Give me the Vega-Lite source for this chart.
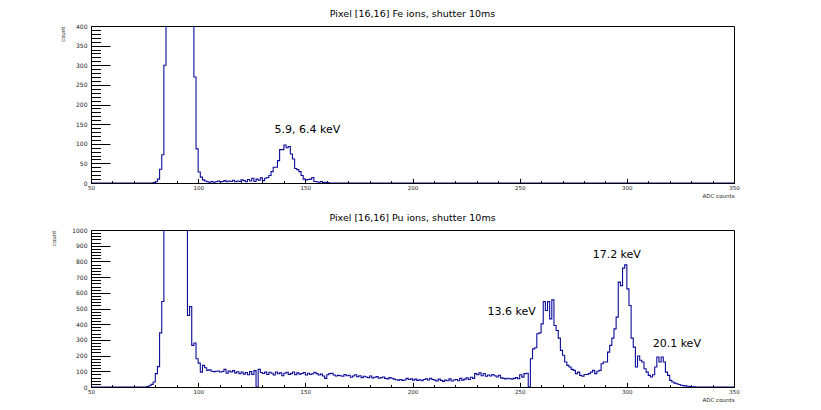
{
  "$schema": "https://vega.github.io/schema/vega-lite/v6.json",
  "background": "white",
  "padding": {"left": 51, "top": 8, "right": 5, "bottom": 0},
  "spacing": 12,
  "datasets": {
    "fe": [
      {"adc":50,"count":0},{"adc":76,"count":0},{"adc":77,"count":0},{"adc":78,"count":0},{"adc":79,"count":1},{"adc":80,"count":3},{"adc":81,"count":10},{"adc":82,"count":35},{"adc":83,"count":72},{"adc":84,"count":300},
      {"adc":85,"count":620},{"adc":86,"count":1500},{"adc":87,"count":2800},{"adc":88,"count":4100},{"adc":89,"count":5000},{"adc":90,"count":5400},{"adc":91,"count":5200},{"adc":92,"count":4600},{"adc":93,"count":3700},{"adc":94,"count":2700},
      {"adc":95,"count":1800},{"adc":96,"count":1000},{"adc":97,"count":520},{"adc":98,"count":270},{"adc":99,"count":87},{"adc":100,"count":28},{"adc":101,"count":15},{"adc":102,"count":8},{"adc":103,"count":5},{"adc":104,"count":3},
      {"adc":105,"count":2},{"adc":106,"count":4},{"adc":107,"count":2},{"adc":108,"count":3},{"adc":109,"count":5},{"adc":110,"count":3},{"adc":111,"count":4},{"adc":112,"count":6},{"adc":113,"count":3},{"adc":114,"count":5},
      {"adc":115,"count":4},{"adc":116,"count":7},{"adc":117,"count":3},{"adc":118,"count":5},{"adc":119,"count":4},{"adc":120,"count":8},{"adc":121,"count":6},{"adc":122,"count":3},{"adc":123,"count":9},{"adc":124,"count":5},
      {"adc":125,"count":12},{"adc":126,"count":4},{"adc":127,"count":10},{"adc":128,"count":7},{"adc":129,"count":13},{"adc":130,"count":6},{"adc":131,"count":12},{"adc":132,"count":14},{"adc":133,"count":19},{"adc":134,"count":29},
      {"adc":135,"count":40},{"adc":136,"count":40},{"adc":137,"count":57},{"adc":138,"count":85},{"adc":139,"count":85},{"adc":140,"count":97},{"adc":141,"count":90},{"adc":142,"count":93},{"adc":143,"count":74},{"adc":144,"count":61},
      {"adc":145,"count":37},{"adc":146,"count":34},{"adc":147,"count":29},{"adc":148,"count":19},{"adc":149,"count":10},{"adc":150,"count":8},{"adc":151,"count":9},{"adc":152,"count":10},{"adc":153,"count":14},{"adc":154,"count":4},
      {"adc":155,"count":3},{"adc":156,"count":2},{"adc":157,"count":4},{"adc":158,"count":1},{"adc":159,"count":2},{"adc":160,"count":1},{"adc":161,"count":0},{"adc":350,"count":0}
    ],
    "pu": [
      {"adc":50,"count":0},{"adc":75,"count":0},{"adc":76,"count":3},{"adc":77,"count":8},{"adc":78,"count":17},{"adc":79,"count":32},{"adc":80,"count":85},{"adc":81,"count":130},{"adc":82,"count":345},{"adc":83,"count":545},
      {"adc":84,"count":1200},{"adc":85,"count":2600},{"adc":86,"count":4200},{"adc":87,"count":5600},{"adc":88,"count":6500},{"adc":89,"count":6800},{"adc":90,"count":6400},{"adc":91,"count":5500},{"adc":92,"count":4300},{"adc":93,"count":3000},
      {"adc":94,"count":1700},{"adc":95,"count":455},{"adc":96,"count":512},{"adc":97,"count":265},{"adc":98,"count":280},{"adc":99,"count":180},{"adc":100,"count":152},{"adc":101,"count":95},{"adc":102,"count":138},{"adc":103,"count":123},
      {"adc":104,"count":106},{"adc":105,"count":110},{"adc":106,"count":100},{"adc":107,"count":98},{"adc":108,"count":100},{"adc":109,"count":102},{"adc":110,"count":96},{"adc":111,"count":99},{"adc":112,"count":112},{"adc":113,"count":88},
      {"adc":114,"count":101},{"adc":115,"count":96},{"adc":116,"count":104},{"adc":117,"count":90},{"adc":118,"count":97},{"adc":119,"count":84},{"adc":120,"count":96},{"adc":121,"count":82},{"adc":122,"count":92},{"adc":123,"count":78},
      {"adc":124,"count":98},{"adc":125,"count":80},{"adc":126,"count":104},{"adc":127,"count":0},{"adc":128,"count":112},{"adc":129,"count":92},{"adc":130,"count":86},{"adc":131,"count":95},{"adc":132,"count":80},{"adc":133,"count":94},
      {"adc":134,"count":88},{"adc":135,"count":76},{"adc":136,"count":96},{"adc":137,"count":84},{"adc":138,"count":90},{"adc":139,"count":72},{"adc":140,"count":88},{"adc":141,"count":94},{"adc":142,"count":80},{"adc":143,"count":85},
      {"adc":144,"count":96},{"adc":145,"count":78},{"adc":146,"count":90},{"adc":147,"count":82},{"adc":148,"count":86},{"adc":149,"count":92},{"adc":150,"count":76},{"adc":151,"count":88},{"adc":152,"count":80},{"adc":153,"count":84},
      {"adc":154,"count":94},{"adc":155,"count":85},{"adc":156,"count":76},{"adc":157,"count":82},{"adc":158,"count":70},{"adc":159,"count":55},{"adc":160,"count":78},{"adc":161,"count":85},{"adc":162,"count":88},{"adc":163,"count":76},
      {"adc":164,"count":70},{"adc":165,"count":74},{"adc":166,"count":72},{"adc":167,"count":68},{"adc":168,"count":80},{"adc":169,"count":72},{"adc":170,"count":75},{"adc":171,"count":62},{"adc":172,"count":70},{"adc":173,"count":78},
      {"adc":174,"count":66},{"adc":175,"count":72},{"adc":176,"count":60},{"adc":177,"count":68},{"adc":178,"count":64},{"adc":179,"count":60},{"adc":180,"count":70},{"adc":181,"count":58},{"adc":182,"count":62},{"adc":183,"count":66},
      {"adc":184,"count":56},{"adc":185,"count":60},{"adc":186,"count":64},{"adc":187,"count":55},{"adc":188,"count":52},{"adc":189,"count":60},{"adc":190,"count":56},{"adc":191,"count":50},{"adc":192,"count":46},{"adc":193,"count":44},
      {"adc":194,"count":48},{"adc":195,"count":42},{"adc":196,"count":45},{"adc":197,"count":55},{"adc":198,"count":48},{"adc":199,"count":52},{"adc":200,"count":44},{"adc":201,"count":50},{"adc":202,"count":42},{"adc":203,"count":46},
      {"adc":204,"count":40},{"adc":205,"count":48},{"adc":206,"count":52},{"adc":207,"count":45},{"adc":208,"count":56},{"adc":209,"count":48},{"adc":210,"count":44},{"adc":211,"count":38},{"adc":212,"count":50},{"adc":213,"count":42},
      {"adc":214,"count":36},{"adc":215,"count":44},{"adc":216,"count":40},{"adc":217,"count":52},{"adc":218,"count":38},{"adc":219,"count":45},{"adc":220,"count":48},{"adc":221,"count":40},{"adc":222,"count":55},{"adc":223,"count":44},
      {"adc":224,"count":50},{"adc":225,"count":58},{"adc":226,"count":48},{"adc":227,"count":62},{"adc":228,"count":55},{"adc":229,"count":85},{"adc":230,"count":78},{"adc":231,"count":90},{"adc":232,"count":72},{"adc":233,"count":86},
      {"adc":234,"count":68},{"adc":235,"count":76},{"adc":236,"count":70},{"adc":237,"count":80},{"adc":238,"count":72},{"adc":239,"count":64},{"adc":240,"count":75},{"adc":241,"count":58},{"adc":242,"count":55},{"adc":243,"count":52},
      {"adc":244,"count":56},{"adc":245,"count":53},{"adc":246,"count":50},{"adc":247,"count":55},{"adc":248,"count":60},{"adc":249,"count":53},{"adc":250,"count":78},{"adc":251,"count":63},{"adc":252,"count":85},{"adc":253,"count":88},
      {"adc":254,"count":0},{"adc":255,"count":180},{"adc":256,"count":243},{"adc":257,"count":250},{"adc":258,"count":339},{"adc":259,"count":345},{"adc":260,"count":402},{"adc":261,"count":544},{"adc":262,"count":487},{"adc":263,"count":544},
      {"adc":264,"count":434},{"adc":265,"count":555},{"adc":266,"count":392},{"adc":267,"count":360},{"adc":268,"count":311},{"adc":269,"count":233},{"adc":270,"count":202},{"adc":271,"count":159},{"adc":272,"count":138},{"adc":273,"count":127},
      {"adc":274,"count":112},{"adc":275,"count":106},{"adc":276,"count":85},{"adc":277,"count":95},{"adc":278,"count":74},{"adc":279,"count":68},{"adc":280,"count":80},{"adc":281,"count":80},{"adc":282,"count":85},{"adc":283,"count":95},
      {"adc":284,"count":106},{"adc":285,"count":85},{"adc":286,"count":100},{"adc":287,"count":106},{"adc":288,"count":148},{"adc":289,"count":159},{"adc":290,"count":159},{"adc":291,"count":222},{"adc":292,"count":265},{"adc":293,"count":311},
      {"adc":294,"count":370},{"adc":295,"count":445},{"adc":296,"count":668},{"adc":297,"count":646},{"adc":298,"count":757},{"adc":299,"count":778},{"adc":300,"count":625},{"adc":301,"count":519},{"adc":302,"count":311},{"adc":303,"count":254},
      {"adc":304,"count":127},{"adc":305,"count":197},{"adc":306,"count":170},{"adc":307,"count":159},{"adc":308,"count":116},{"adc":309,"count":95},{"adc":310,"count":74},{"adc":311,"count":64},{"adc":312,"count":78},{"adc":313,"count":127},
      {"adc":314,"count":191},{"adc":315,"count":159},{"adc":316,"count":191},{"adc":317,"count":159},{"adc":318,"count":95},{"adc":319,"count":74},{"adc":320,"count":42},{"adc":321,"count":32},{"adc":322,"count":25},{"adc":323,"count":21},
      {"adc":324,"count":16},{"adc":325,"count":11},{"adc":326,"count":9},{"adc":327,"count":7},{"adc":328,"count":5},{"adc":329,"count":3},{"adc":330,"count":2},{"adc":331,"count":1},{"adc":332,"count":0},{"adc":350,"count":0}
    ],
    "notes": [
      {"panel":"Fe","adc":151,"count":135,"label":"5.9, 6.4 keV"},
      {"panel":"Pu","adc":246.3,"count":479,"label":"13.6 keV"},
      {"panel":"Pu","adc":295.3,"count":841,"label":"17.2 keV"},
      {"panel":"Pu","adc":323.3,"count":275,"label":"20.1 keV"}
    ]
  },
  "config": {
    "font": "DejaVu Sans",
    "view": {"stroke": "black", "strokeWidth": 1},
    "title": {"font": "DejaVu Sans", "fontSize": 9.5, "fontWeight": "normal", "color": "black"},
    "axis": {
      "grid": false, "domainColor": "black", "tickColor": "black", "labelColor": "#222222", "titleColor": "#222222",
      "labelFont": "DejaVu Sans", "titleFont": "DejaVu Sans", "titleFontWeight": "normal", "labelOverlap": false, "labelFlush": false, "tickCount": 200
    }
  },
  "vconcat": [
    {
      "width": 643, "height": 157,
      "title": {"text": "Pixel [16,16] Fe ions, shutter 10ms", "offset": 5},
      "layer": [
        {
          "data": {"name": "fe"},
          "mark": {"type": "line", "interpolate": "step-after", "clip": true, "color": "#0c0c9a", "strokeWidth": 1.1},
          "encoding": {
            "x": {"field": "adc", "type": "quantitative", "scale": {"domain": [50, 350], "nice": false, "zero": false},
              "axis": {"values": [50,60,70,80,90,100,110,120,130,140,150,160,170,180,190,200,210,220,230,240,250,260,270,280,290,300,310,320,330,340,350],
                "tickCount": 200, "format": "d",
                "labelExpr": "datum.value % 50 === 0 ? datum.label : ''",
                "tickSize": {"condition": {"test": "datum.value % 50 === 0", "value": -4.7}, "value": -2.4},
                "labelFontSize": 5.5, "labelPadding": 7, "title": "ADC counts", "titleFontSize": 5.5, "titleAnchor": "end", "titlePadding": 0}},
            "y": {"field": "count", "type": "quantitative", "scale": {"domain": [0, 400], "nice": false},
              "axis": {"values": [0,10,20,30,40,50,60,70,80,90,100,110,120,130,140,150,160,170,180,190,200,210,220,230,240,250,260,270,280,290,300,310,320,330,340,350,360,370,380,390,400],
                "tickCount": 200, "format": "d",
                "labelExpr": "datum.value % 50 === 0 ? datum.label : ''",
                "tickSize": {"condition": {"test": "datum.value % 50 === 0", "value": -19}, "value": -9.5},
                "labelFontSize": 6, "labelPadding": 23, "title": "count", "titleFontSize": 5.5, "titleAnchor": "end", "titlePadding": 10}}
          }
        },
        {
          "data": {"name": "notes"},
          "transform": [{"filter": "datum.panel === 'Fe'"}],
          "mark": {"type": "text", "font": "DejaVu Sans", "fontSize": 11, "color": "black"},
          "encoding": {
            "x": {"field": "adc", "type": "quantitative"},
            "y": {"field": "count", "type": "quantitative"},
            "text": {"field": "label"}
          }
        }
      ]
    },
    {
      "width": 643, "height": 157,
      "title": {"text": "Pixel [16,16] Pu ions, shutter 10ms", "offset": 5},
      "layer": [
        {
          "data": {"name": "pu"},
          "mark": {"type": "line", "interpolate": "step-after", "clip": true, "color": "#0c0c9a", "strokeWidth": 1.1},
          "encoding": {
            "x": {"field": "adc", "type": "quantitative", "scale": {"domain": [50, 350], "nice": false, "zero": false},
              "axis": {"values": [50,60,70,80,90,100,110,120,130,140,150,160,170,180,190,200,210,220,230,240,250,260,270,280,290,300,310,320,330,340,350],
                "tickCount": 200, "format": "d",
                "labelExpr": "datum.value % 50 === 0 ? datum.label : ''",
                "tickSize": {"condition": {"test": "datum.value % 50 === 0", "value": -4.7}, "value": -2.4},
                "labelFontSize": 5.5, "labelPadding": 7, "title": "ADC counts", "titleFontSize": 5.5, "titleAnchor": "end", "titlePadding": 0}},
            "y": {"field": "count", "type": "quantitative", "scale": {"domain": [0, 1000], "nice": false},
              "axis": {"values": [0,20,40,60,80,100,120,140,160,180,200,220,240,260,280,300,320,340,360,380,400,420,440,460,480,500,520,540,560,580,600,620,640,660,680,700,720,740,760,780,800,820,840,860,880,900,920,940,960,980,1000],
                "tickCount": 200, "format": "d",
                "labelExpr": "datum.value % 100 === 0 ? datum.label : ''",
                "tickSize": {"condition": {"test": "datum.value % 100 === 0", "value": -19}, "value": -9.5},
                "labelFontSize": 6, "labelPadding": 23, "title": "count", "titleFontSize": 5.5, "titleAnchor": "end", "titlePadding": 15}}
          }
        },
        {
          "data": {"name": "notes"},
          "transform": [{"filter": "datum.panel === 'Pu'"}],
          "mark": {"type": "text", "font": "DejaVu Sans", "fontSize": 11, "color": "black"},
          "encoding": {
            "x": {"field": "adc", "type": "quantitative"},
            "y": {"field": "count", "type": "quantitative"},
            "text": {"field": "label"}
          }
        }
      ]
    }
  ]
}
